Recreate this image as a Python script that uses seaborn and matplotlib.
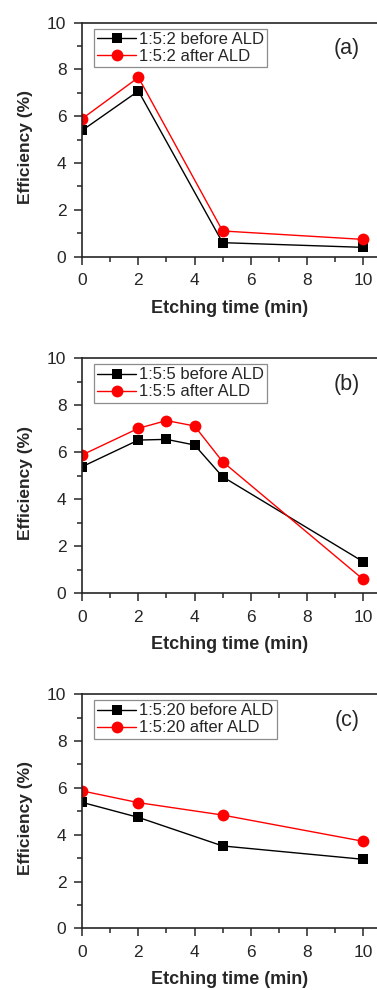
import matplotlib
matplotlib.use("Agg")
import matplotlib.pyplot as plt
import pandas as pd
import seaborn as sns
from matplotlib.ticker import MultipleLocator

# values
time_a = [0, 2, 5, 10]
before_a = [5.4, 7.08, 0.6, 0.4]
after_a = [5.9, 7.66, 1.1, 0.74]

time_b = [0, 2, 3, 4, 5, 10]
before_b = [5.39, 6.52, 6.55, 6.31, 4.96, 1.35]
after_b = [5.89, 7.02, 7.35, 7.12, 5.6, 0.6]

time_c = [0, 2, 5, 10]
before_c = [5.38, 4.74, 3.52, 2.95]
after_c = [5.87, 5.37, 4.84, 3.72]

ratios = ["1:5:2", "1:5:5", "1:5:20"]
panel_tags = ["(a)", "(b)", "(c)"]

sns.set_style("ticks")
plt.rcParams["font.family"] = ["Liberation Sans", "DejaVu Sans"]

fig = plt.figure(figsize=(3.77, 9.9), dpi=100)

# axes boxes in figure fractions (left, bottom, width, height)
boxes = [
    (0.2167, 0.7407, 0.7833, 0.2364),
    (0.2167, 0.4007, 0.7833, 0.2374),
    (0.2167, 0.0623, 0.7833, 0.2364),
]

panels = [
    (time_a, before_a, after_a),
    (time_b, before_b, after_b),
    (time_c, before_c, after_c),
]

ink = "#262626"

for box, (t, bef, aft), ratio, tag in zip(boxes, panels, ratios, panel_tags):
    ax = fig.add_axes(box)
    df = pd.DataFrame({"time": t, "before": bef, "after": aft})

    sns.lineplot(data=df, x="time", y="before", ax=ax, color="black",
                 marker="s", markersize=7, markeredgewidth=0, linewidth=1.0,
                 label=f"{ratio} before ALD")
    sns.lineplot(data=df, x="time", y="after", ax=ax, color="#ff0000",
                 marker="o", markersize=8.5, markeredgewidth=0, linewidth=1.0,
                 label=f"{ratio} after ALD")

    ax.set_xlim(-0.02, 10.5)
    ax.set_ylim(0, 10)
    ax.xaxis.set_major_locator(MultipleLocator(2))
    ax.xaxis.set_minor_locator(MultipleLocator(1))
    ax.yaxis.set_major_locator(MultipleLocator(2))
    ax.yaxis.set_minor_locator(MultipleLocator(1))
    ax.tick_params(which="major", direction="out", length=6, width=1.1,
                   labelsize=12.5, colors=ink)
    ax.tick_params(which="minor", direction="out", length=3.5, width=1.1,
                   colors=ink)
    ax.tick_params(axis="x", which="major", pad=6)
    ax.tick_params(axis="y", which="major", pad=5)

    for side in ["left", "bottom", "top"]:
        ax.spines[side].set_linewidth(1.2)
        ax.spines[side].set_color(ink)
    ax.spines["right"].set_visible(False)

    ax.set_xlabel("Etching time (min)", fontsize=13, fontweight="bold",
                  color=ink)
    ax.set_ylabel("Efficiency (%)", fontsize=12.5, fontweight="bold",
                  color=ink)
    ax.xaxis.set_label_coords(0.5, -0.183)
    ax.yaxis.set_label_coords(-0.165, 0.47)

    ax.text(0.898, 0.89, tag, transform=ax.transAxes, fontsize=15.5,
            ha="center", va="center", color=ink)

    leg = ax.legend(loc="upper left", bbox_to_anchor=(0.042, 0.975),
                    fontsize=12, frameon=True, fancybox=False, framealpha=1,
                    edgecolor="#8c8c8c", borderpad=0.2, labelspacing=0.12,
                    handlelength=2.3, handletextpad=0.2, borderaxespad=0)
    leg.get_frame().set_linewidth(0.9)
    for txt in leg.get_texts():
        txt.set_color(ink)

fig.savefig("out.png", dpi=100)
